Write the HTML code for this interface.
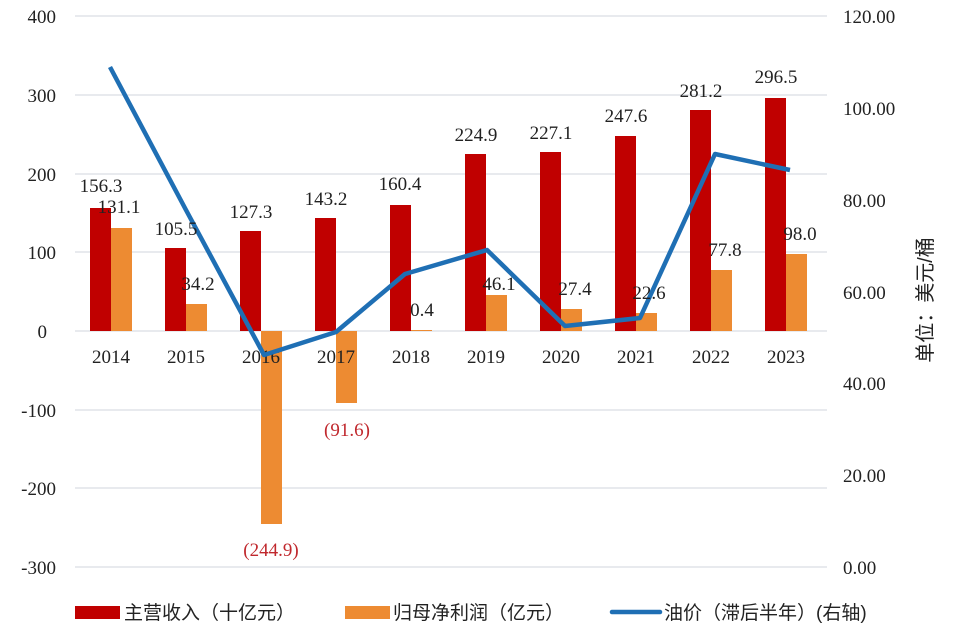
<!DOCTYPE html>
<html><head><meta charset="utf-8"><style>
html,body{margin:0;padding:0;background:#fff;}
svg{display:block;font-family:"Liberation Serif","Noto Serif CJK SC",serif;}
</style></head><body>
<svg width="960" height="642" viewBox="0 0 960 642" xmlns="http://www.w3.org/2000/svg">
<rect width="960" height="642" fill="#fff"/>
<g stroke="#d9dde3" stroke-width="1.3">
<line x1="75" x2="827" y1="16" y2="16"/><line x1="75" x2="827" y1="95" y2="95"/>
<line x1="75" x2="827" y1="174" y2="174"/><line x1="75" x2="827" y1="252" y2="252"/>
<line x1="75" x2="827" y1="331" y2="331"/><line x1="75" x2="827" y1="410" y2="410"/>
<line x1="75" x2="827" y1="488" y2="488"/><line x1="75" x2="827" y1="567" y2="567"/>
</g>
<g font-size="19" fill="#222" text-anchor="end">
<text x="56" y="23">400</text><text x="56" y="102">300</text><text x="56" y="181">200</text>
<text x="56" y="259">100</text><text x="47" y="338">0</text><text x="56" y="417">-100</text>
<text x="56" y="495">-200</text><text x="56" y="574">-300</text>
</g>
<g font-size="19" fill="#222">
<text x="843" y="23">120.00</text><text x="843" y="115">100.00</text><text x="843" y="207">80.00</text>
<text x="843" y="299">60.00</text><text x="843" y="390">40.00</text><text x="843" y="482">20.00</text>
<text x="843" y="574">0.00</text>
</g>
<text transform="translate(932,300) rotate(-90)" font-size="20" fill="#222" text-anchor="middle" font-family="Liberation Sans,'Noto Sans CJK SC',sans-serif">单位：美元/桶</text>
<g fill="#c00000">
<rect x="90" y="208" width="21" height="123"/>
<rect x="165" y="248" width="21" height="83"/>
<rect x="240" y="231" width="21" height="100"/>
<rect x="315" y="218" width="21" height="113"/>
<rect x="390" y="205" width="21" height="126"/>
<rect x="465" y="154" width="21" height="177"/>
<rect x="540" y="152" width="21" height="179"/>
<rect x="615" y="136" width="21" height="195"/>
<rect x="690" y="110" width="21" height="221"/>
<rect x="765" y="98" width="21" height="233"/>
</g>
<g fill="#ed8b32">
<rect x="111" y="228" width="21" height="103"/>
<rect x="186" y="304" width="21" height="27"/>
<rect x="261" y="331" width="21" height="193"/>
<rect x="336" y="331" width="21" height="72"/>
<rect x="411" y="330" width="21" height="1"/>
<rect x="486" y="295" width="21" height="36"/>
<rect x="561" y="309" width="21" height="22"/>
<rect x="636" y="313" width="21" height="18"/>
<rect x="711" y="270" width="21" height="61"/>
<rect x="786" y="254" width="21" height="77"/>
</g>
<g font-size="19" fill="#222" text-anchor="middle">
<text x="111" y="363">2014</text><text x="186" y="363">2015</text><text x="261" y="363">2016</text>
<text x="336" y="363">2017</text><text x="411" y="363">2018</text><text x="486" y="363">2019</text>
<text x="561" y="363">2020</text><text x="636" y="363">2021</text><text x="711" y="363">2022</text>
<text x="786" y="363">2023</text>
</g>
<polyline fill="none" stroke="#1f6fb4" stroke-width="4.5" stroke-linejoin="round" points="110,67 186,210 264,355 336,332 405,274 487,250 565,326 640,318 715,154 790,170"/>
<g font-size="19" fill="#222" text-anchor="middle">
<text x="101" y="192">156.3</text><text x="119" y="213">131.1</text>
<text x="176" y="235">105.5</text><text x="198" y="290">34.2</text>
<text x="251" y="218">127.3</text><text x="326" y="205">143.2</text>
<text x="400" y="190">160.4</text><text x="422" y="316">0.4</text>
<text x="476" y="141">224.9</text><text x="499" y="290">46.1</text>
<text x="551" y="139">227.1</text><text x="575" y="295">27.4</text>
<text x="626" y="122">247.6</text><text x="649" y="299">22.6</text>
<text x="701" y="97">281.2</text><text x="725" y="256">77.8</text>
<text x="776" y="83">296.5</text><text x="800" y="240">98.0</text>
</g>
<g font-size="19" fill="#c0282d" text-anchor="middle">
<text x="271" y="556">(244.9)</text><text x="347" y="436">(91.6)</text>
</g>
<g font-family="Liberation Sans,'Noto Sans CJK SC',sans-serif" font-size="19" fill="#222">
<rect x="75" y="606" width="45" height="13" fill="#c00000"/>
<text x="124" y="619">主营收入（十亿元）</text>
<rect x="345" y="606" width="45" height="13" fill="#ed8b32"/>
<text x="393" y="619">归母净利润（亿元）</text>
<line x1="612" x2="660" y1="612" y2="612" stroke="#1f6fb4" stroke-width="4.5" stroke-linecap="round"/>
<text x="664" y="619">油价（滞后半年）(右轴)</text>
</g>
</svg>
</body></html>
